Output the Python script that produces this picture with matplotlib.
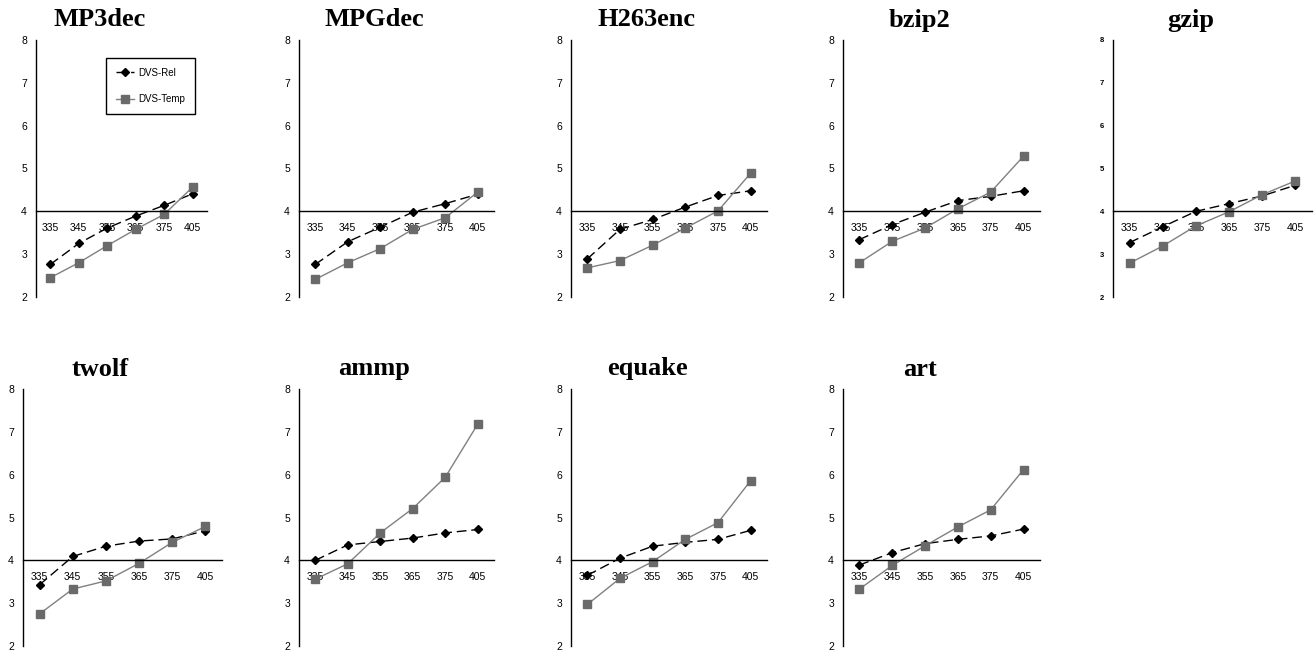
import matplotlib
matplotlib.use('Agg')
import matplotlib.pyplot as plt
from matplotlib.lines import Line2D

plt.rcParams['font.family'] = ['Liberation Sans', 'DejaVu Sans']

# ---------------- data ----------------
temps = ['335', '345', '355', '365', '375', '405']
benchmarks = ['MP3dec', 'MPGdec', 'H263enc', 'bzip2', 'gzip',
              'twolf', 'ammp', 'equake', 'art']
y_ticks = [2, 3, 4, 5, 6, 7, 8]

mp3dec_rel  = [2.76, 3.25, 3.61, 3.89, 4.14, 4.41]
mp3dec_temp = [2.45, 2.80, 3.20, 3.58, 3.93, 4.57]
mpgdec_rel  = [2.76, 3.29, 3.63, 3.98, 4.18, 4.40]
mpgdec_temp = [2.41, 2.80, 3.13, 3.58, 3.85, 4.45]
h263enc_rel  = [2.89, 3.58, 3.81, 4.10, 4.37, 4.48]
h263enc_temp = [2.68, 2.85, 3.21, 3.61, 4.01, 4.89]
bzip2_rel  = [3.34, 3.69, 3.98, 4.25, 4.35, 4.48]
bzip2_temp = [2.80, 3.30, 3.61, 4.06, 4.45, 5.29]
gzip_rel  = [3.27, 3.64, 4.00, 4.18, 4.36, 4.61]
gzip_temp = [2.79, 3.19, 3.66, 3.99, 4.39, 4.71]
twolf_rel  = [3.43, 4.09, 4.33, 4.45, 4.50, 4.69]
twolf_temp = [2.75, 3.33, 3.52, 3.93, 4.42, 4.79]
ammp_rel  = [4.00, 4.36, 4.44, 4.52, 4.64, 4.72]
ammp_temp = [3.56, 3.92, 4.64, 5.21, 5.94, 7.18]
equake_rel  = [3.65, 4.05, 4.33, 4.42, 4.49, 4.70]
equake_temp = [2.97, 3.58, 3.97, 4.49, 4.88, 5.86]
art_rel  = [3.89, 4.18, 4.39, 4.49, 4.57, 4.73]
art_temp = [3.33, 3.88, 4.34, 4.78, 5.18, 6.12]

rel_series = [mp3dec_rel, mpgdec_rel, h263enc_rel, bzip2_rel, gzip_rel,
              twolf_rel, ammp_rel, equake_rel, art_rel]
temp_series = [mp3dec_temp, mpgdec_temp, h263enc_temp, bzip2_temp, gzip_temp,
               twolf_temp, ammp_temp, equake_temp, art_temp]

# ---------------- layout (pixels) ----------------
W, H = 1316, 656
boxes = [(36, 207, 40, 297), (299, 494, 40, 297), (571, 767, 40, 297),
         (843, 1040, 40, 297), (1113, 1312, 40, 297),
         (23, 222, 389, 646), (299, 494, 389, 646), (571, 767, 389, 646),
         (843, 1040, 389, 646)]

fig = plt.figure(figsize=(W / 100, H / 100), dpi=100)

REL_KW = dict(color='black', ls=(0, (7, 3.5)), lw=1.0, marker='D', ms=3.6,
              mfc='black', mec='black')
TEMP_KW = dict(color='#808080', ls='-', lw=1.0, marker='s', ms=5.4,
               mfc='#6a6a6a', mec='#6a6a6a')

x = list(range(len(temps)))
for i, (name, rel, tmp, (l, r, t, b)) in enumerate(
        zip(benchmarks, rel_series, temp_series, boxes)):
    ax = fig.add_axes([l / W, 1 - b / H, (r - l) / W, (b - t) / H])
    ax.set_facecolor('none')
    ax.plot(x, rel, **REL_KW)
    ax.plot(x, tmp, **TEMP_KW)
    ax.set_xlim(-0.5, 5.5)
    ax.set_ylim(2, 8)
    ax.set_xticks(x, temps)
    ax.set_yticks(y_ticks)
    for s in ('top', 'right'):
        ax.spines[s].set_visible(False)
    ax.spines['bottom'].set_position(('data', 4))
    ax.spines['bottom'].set_linewidth(1.0)
    ax.spines['left'].set_linewidth(1.0)
    ax.tick_params(axis='x', length=0, labelsize=7.5, pad=8.5)
    ax.tick_params(axis='y', length=0, labelsize=7.5, pad=6.5)
    if name == 'gzip':
        ax.tick_params(axis='y', labelsize=5.5)
        for lab in ax.get_yticklabels():
            lab.set_fontweight('bold')
    w = r - l
    ax.text(0.5 - 22 / w, 1 + 13.5 / (b - t), name, transform=ax.transAxes,
            ha='center', va='baseline', fontsize=19, fontweight='bold',
            family='Liberation Serif')

handles = [Line2D([], [], **REL_KW), Line2D([], [], **TEMP_KW)]
fig.legend(handles, ['DVS-Rel', 'DVS-Temp'], loc='upper left',
           bbox_to_anchor=(106 / W, 1 - 58 / H), bbox_transform=fig.transFigure,
           borderaxespad=0, fontsize=7, frameon=True, fancybox=False,
           edgecolor='black', framealpha=1, handlelength=1.9,
           handletextpad=0.4, labelspacing=1.7, borderpad=1.0)

fig.savefig('out.png', dpi=100)
